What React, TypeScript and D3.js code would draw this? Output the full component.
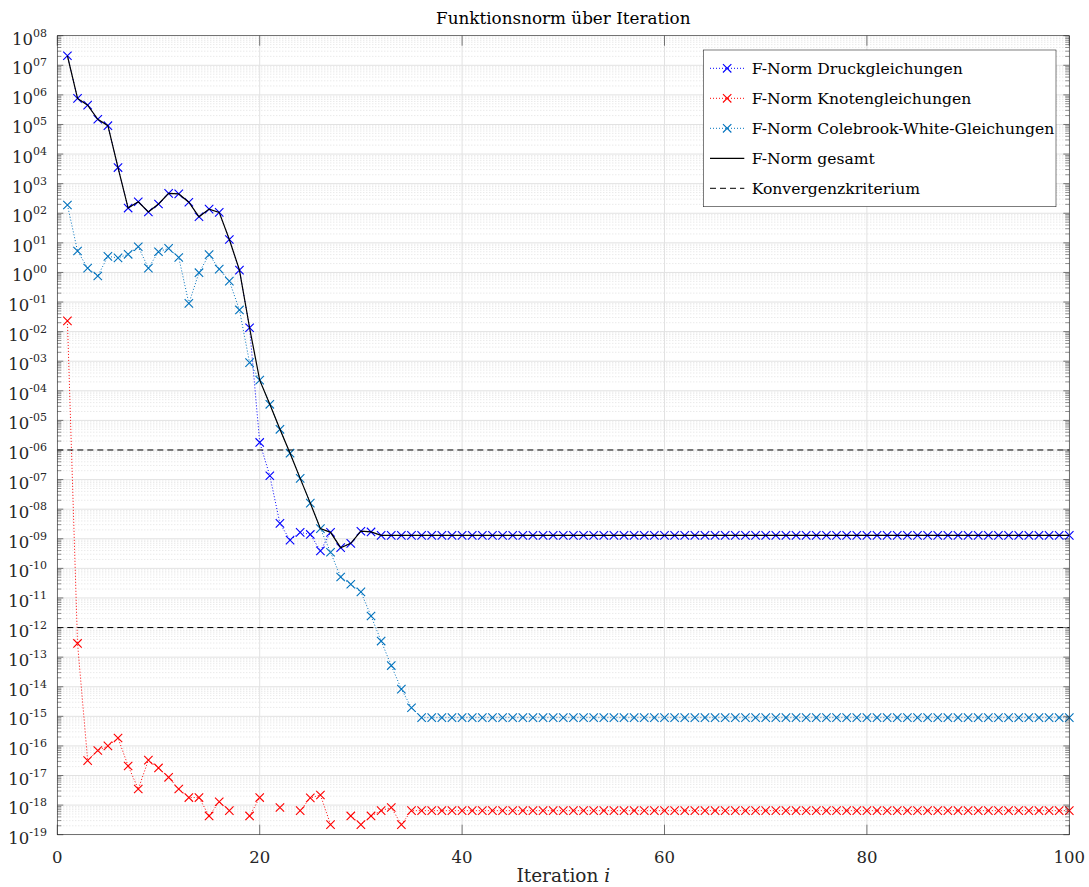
import React from "react";
import * as d3 from "d3";

// ---------- data ----------
const iterations = d3.range(1, 101);

const druckNorm: (number | null)[] = [
  2.1e7, 7.6e5, 4.5e5, 1.5e5, 9.1e4, 3.5e3, 150, 245, 110, 205,
  470, 450, 235, 76, 138, 107, 13, 1.2, 0.0135, 1.8e-6,
  1.35e-7, 3.3e-9, 9e-10, 1.65e-9, 1.4e-9, 3.9e-10, 1.65e-9, 5e-10, 7e-10, 1.8e-9,
  1.7e-9, 1.3e-9, 1.3e-9, 1.3e-9, 1.3e-9, 1.3e-9, 1.3e-9, 1.3e-9, 1.3e-9, 1.3e-9,
  1.3e-9, 1.3e-9, 1.3e-9, 1.3e-9, 1.3e-9, 1.3e-9, 1.3e-9, 1.3e-9, 1.3e-9, 1.3e-9,
  1.3e-9, 1.3e-9, 1.3e-9, 1.3e-9, 1.3e-9, 1.3e-9, 1.3e-9, 1.3e-9, 1.3e-9, 1.3e-9,
  1.3e-9, 1.3e-9, 1.3e-9, 1.3e-9, 1.3e-9, 1.3e-9, 1.3e-9, 1.3e-9, 1.3e-9, 1.3e-9,
  1.3e-9, 1.3e-9, 1.3e-9, 1.3e-9, 1.3e-9, 1.3e-9, 1.3e-9, 1.3e-9, 1.3e-9, 1.3e-9,
  1.3e-9, 1.3e-9, 1.3e-9, 1.3e-9, 1.3e-9, 1.3e-9, 1.3e-9, 1.3e-9, 1.3e-9, 1.3e-9,
  1.3e-9, 1.3e-9, 1.3e-9, 1.3e-9, 1.3e-9, 1.3e-9, 1.3e-9, 1.3e-9, 1.3e-9, 1.3e-9,
];

const knotenNorm: (number | null)[] = [
  0.023, 2.9e-13, 3.2e-17, 7e-17, 1e-16, 1.85e-16, 2.1e-17, 3.5e-18, 3.3e-17, 1.8e-17,
  8.7e-18, 3.5e-18, 1.8e-18, 1.8e-18, 4.3e-19, 1.3e-18, 6.5e-19, null, 4.3e-19, 1.8e-18,
  null, 8.3e-19, null, 6.5e-19, 1.75e-18, 2.2e-18, 2.2e-19, null, 4.3e-19, 2.2e-19,
  4.3e-19, 6.5e-19, 8.3e-19, 2.2e-19, 6.5e-19, 6.5e-19, 6.5e-19, 6.5e-19, 6.5e-19, 6.5e-19,
  6.5e-19, 6.5e-19, 6.5e-19, 6.5e-19, 6.5e-19, 6.5e-19, 6.5e-19, 6.5e-19, 6.5e-19, 6.5e-19,
  6.5e-19, 6.5e-19, 6.5e-19, 6.5e-19, 6.5e-19, 6.5e-19, 6.5e-19, 6.5e-19, 6.5e-19, 6.5e-19,
  6.5e-19, 6.5e-19, 6.5e-19, 6.5e-19, 6.5e-19, 6.5e-19, 6.5e-19, 6.5e-19, 6.5e-19, 6.5e-19,
  6.5e-19, 6.5e-19, 6.5e-19, 6.5e-19, 6.5e-19, 6.5e-19, 6.5e-19, 6.5e-19, 6.5e-19, 6.5e-19,
  6.5e-19, 6.5e-19, 6.5e-19, 6.5e-19, 6.5e-19, 6.5e-19, 6.5e-19, 6.5e-19, 6.5e-19, 6.5e-19,
  6.5e-19, 6.5e-19, 6.5e-19, 6.5e-19, 6.5e-19, 6.5e-19, 6.5e-19, 6.5e-19, 6.5e-19, 6.5e-19,
];

const colebrookNorm: (number | null)[] = [
  190, 5.3, 1.4, 0.76, 3.5, 3.1, 4.1, 7.4, 1.4, 5,
  6.5, 3.2, 0.09, 0.98, 4, 1.3, 0.51, 0.054, 9e-4, 2.3e-4,
  3.5e-5, 5e-6, 7.8e-7, 1.1e-7, 1.6e-8, 2.2e-9, 3.5e-10, 5.1e-11, 2.9e-11, 1.6e-11,
  2.45e-12, 3.5e-13, 5.2e-14, 8.3e-15, 1.95e-15, 9e-16, 9e-16, 9e-16, 9e-16, 9e-16,
  9e-16, 9e-16, 9e-16, 9e-16, 9e-16, 9e-16, 9e-16, 9e-16, 9e-16, 9e-16,
  9e-16, 9e-16, 9e-16, 9e-16, 9e-16, 9e-16, 9e-16, 9e-16, 9e-16, 9e-16,
  9e-16, 9e-16, 9e-16, 9e-16, 9e-16, 9e-16, 9e-16, 9e-16, 9e-16, 9e-16,
  9e-16, 9e-16, 9e-16, 9e-16, 9e-16, 9e-16, 9e-16, 9e-16, 9e-16, 9e-16,
  9e-16, 9e-16, 9e-16, 9e-16, 9e-16, 9e-16, 9e-16, 9e-16, 9e-16, 9e-16,
  9e-16, 9e-16, 9e-16, 9e-16, 9e-16, 9e-16, 9e-16, 9e-16, 9e-16, 9e-16,
];

const gesamtNorm: (number | null)[] = [
  2.1e7, 7.6e5, 4.5e5, 1.5e5, 9.1e4, 3.5e3, 150, 245, 110, 205,
  470, 450, 235, 76, 138, 107, 13, 1.2, 0.0135, 2.3e-4,
  3.5e-5, 5e-6, 7.8e-7, 1.1e-7, 1.6e-8, 2.2e-9, 1.65e-9, 5e-10, 7e-10, 1.8e-9,
  1.7e-9, 1.3e-9, 1.3e-9, 1.3e-9, 1.3e-9, 1.3e-9, 1.3e-9, 1.3e-9, 1.3e-9, 1.3e-9,
  1.3e-9, 1.3e-9, 1.3e-9, 1.3e-9, 1.3e-9, 1.3e-9, 1.3e-9, 1.3e-9, 1.3e-9, 1.3e-9,
  1.3e-9, 1.3e-9, 1.3e-9, 1.3e-9, 1.3e-9, 1.3e-9, 1.3e-9, 1.3e-9, 1.3e-9, 1.3e-9,
  1.3e-9, 1.3e-9, 1.3e-9, 1.3e-9, 1.3e-9, 1.3e-9, 1.3e-9, 1.3e-9, 1.3e-9, 1.3e-9,
  1.3e-9, 1.3e-9, 1.3e-9, 1.3e-9, 1.3e-9, 1.3e-9, 1.3e-9, 1.3e-9, 1.3e-9, 1.3e-9,
  1.3e-9, 1.3e-9, 1.3e-9, 1.3e-9, 1.3e-9, 1.3e-9, 1.3e-9, 1.3e-9, 1.3e-9, 1.3e-9,
  1.3e-9, 1.3e-9, 1.3e-9, 1.3e-9, 1.3e-9, 1.3e-9, 1.3e-9, 1.3e-9, 1.3e-9, 1.3e-9,
];

const konvergenzKriterien = [1e-6, 1e-12];

const xTicks = [0, 20, 40, 60, 80, 100];
const yExponents = d3.range(-19, 9);

const legendLabels = [
  "F-Norm Druckgleichungen",
  "F-Norm Knotengleichungen",
  "F-Norm Colebrook-White-Gleichungen",
  "F-Norm gesamt",
  "Konvergenzkriterium",
];

const titleText = "Funktionsnorm über Iteration";

// ---------- layout / style ----------
const W = 1089;
const H = 887;
const X0 = 57.3;
const X1 = 1069.3;
const Y0 = 35.7;
const Y1 = 834.7;
const FONT = "'DejaVu Serif', 'Liberation Serif', serif";
const AXIS_COLOR = "#262626";

const BLUE = "#0000ff";
const RED = "#ff0000";
const CYAN = "#0072bd";

type Pt = [number, number | null];

function Marker({ cx, cy, color, r = 4.2 }: { cx: number; cy: number; color: string; r?: number }) {
  return (
    <path
      d={`M${cx - r},${cy - r}L${cx + r},${cy + r}M${cx - r},${cy + r}L${cx + r},${cy - r}`}
      stroke={color}
      strokeWidth={1.1}
      fill="none"
    />
  );
}

export default function App() {
  const x = d3.scaleLinear().domain([0, 100]).range([X0, X1]);
  const y = d3.scaleLog().domain([1e-19, 1e8]).range([Y1, Y0]);

  const line = d3
    .line<Pt>()
    .defined((d) => d[1] != null && (d[1] as number) > 0)
    .x((d) => x(d[0]))
    .y((d) => y(d[1] as number));

  const toPts = (vals: (number | null)[]): Pt[] => iterations.map((it, i) => [it, vals[i]]);

  const dotted = [
    { vals: druckNorm, color: BLUE },
    { vals: knotenNorm, color: RED },
    { vals: colebrookNorm, color: CYAN },
  ];

  const minorY: number[] = [];
  for (let e = -19; e < 8; e++) {
    for (let k = 2; k <= 9; k++) minorY.push(k * Math.pow(10, e));
  }

  const fmtExp = (e: number) => (e < 0 ? "-" + String(-e).padStart(2, "0") : String(e).padStart(2, "0"));

  const legX = 703.3;
  const legY = 50;
  const legW = 352.7;
  const legH = 156.7;

  return (
    <svg
      width={W}
      height={H}
      style={{ position: "absolute", left: 0, top: 0, background: "#ffffff" }}
      fontFamily={FONT}
    >
      <rect x={0} y={0} width={W} height={H} fill="#ffffff" />
      {/* minor y grid */}
      {minorY.map((v, i) => (
        <line
          key={"mg" + i}
          x1={X0}
          x2={X1}
          y1={y(v)}
          y2={y(v)}
          stroke="#d4d4d4"
          strokeWidth={0.7}
          strokeDasharray="1 2"
        />
      ))}
      {/* major grid */}
      {yExponents.map((e) => (
        <line key={"yg" + e} x1={X0} x2={X1} y1={y(Math.pow(10, e))} y2={y(Math.pow(10, e))} stroke="#e2e2e2" strokeWidth={1} />
      ))}
      {xTicks.map((t) => (
        <line key={"xg" + t} x1={x(t)} x2={x(t)} y1={Y0} y2={Y1} stroke="#e2e2e2" strokeWidth={1} />
      ))}

      {/* dotted series with x markers */}
      {dotted.map((s, si) => (
        <g key={"s" + si}>
          <path d={line(toPts(s.vals)) || ""} fill="none" stroke={s.color} strokeWidth={1} strokeDasharray="1 2" />
          {toPts(s.vals)
            .filter((d) => d[1] != null && (d[1] as number) > 0)
            .map((d, i) => (
              <Marker key={i} cx={x(d[0])} cy={y(d[1] as number)} color={s.color} />
            ))}
        </g>
      ))}

      {/* total norm */}
      <path d={line(toPts(gesamtNorm)) || ""} fill="none" stroke="#000000" strokeWidth={1.2} />

      {/* convergence criteria */}
      {konvergenzKriterien.map((v, i) => (
        <line key={"k" + i} x1={x(0)} x2={x(100)} y1={y(v)} y2={y(v)} stroke="#000000" strokeWidth={1} strokeDasharray="6 4" />
      ))}

      {/* axes box */}
      <rect x={X0} y={Y0} width={X1 - X0} height={Y1 - Y0} fill="none" stroke={AXIS_COLOR} strokeWidth={0.6} />

      {/* y ticks (left & right, inward) */}
      {yExponents.map((e) => {
        const yy = y(Math.pow(10, e));
        return (
          <g key={"yt" + e}>
            <line x1={X0} x2={X0 + 6} y1={yy} y2={yy} stroke={AXIS_COLOR} strokeWidth={0.6} />
            <line x1={X1} x2={X1 - 6} y1={yy} y2={yy} stroke={AXIS_COLOR} strokeWidth={0.6} />
            <text x={47} y={yy + 9} textAnchor="end" fontSize={16.5} fill={AXIS_COLOR}>
              10
              <tspan dy={-8} fontSize={11}>
                {fmtExp(e)}
              </tspan>
            </text>
          </g>
        );
      })}
      {minorY.map((v, i) => (
        <g key={"ymt" + i}>
          <line x1={X0} x2={X0 + 4} y1={y(v)} y2={y(v)} stroke={AXIS_COLOR} strokeWidth={0.5} />
          <line x1={X1} x2={X1 - 4} y1={y(v)} y2={y(v)} stroke={AXIS_COLOR} strokeWidth={0.5} />
        </g>
      ))}

      {/* x ticks */}
      {xTicks.map((t) => (
        <g key={"xt" + t}>
          <line x1={x(t)} x2={x(t)} y1={Y1} y2={Y1 - 10} stroke={AXIS_COLOR} strokeWidth={0.6} />
          <line x1={x(t)} x2={x(t)} y1={Y0} y2={Y0 + 10} stroke={AXIS_COLOR} strokeWidth={0.6} />
          <text x={x(t)} y={862.5} textAnchor="middle" fontSize={16.5} fill={AXIS_COLOR}>
            {t}
          </text>
        </g>
      ))}

      {/* axis label */}
      <text x={(X0 + X1) / 2} y={882} textAnchor="middle" fontSize={18.5} fill={AXIS_COLOR}>
        Iteration <tspan fontStyle="italic">i</tspan>
      </text>

      {/* title */}
      <text x={(X0 + X1) / 2} y={24} textAnchor="middle" fontSize={16.8} fill="#000000">
        {titleText}
      </text>

      {/* legend */}
      <rect x={legX} y={legY} width={legW} height={legH} fill="#ffffff" stroke={AXIS_COLOR} strokeWidth={0.6} />
      {legendLabels.map((lab, i) => {
        const ly = 68.3 + 30 * i;
        const sx1 = 710;
        const sx2 = 744.3;
        let sample: React.ReactNode = null;
        if (i < 3) {
          const c = [BLUE, RED, CYAN][i];
          sample = (
            <g>
              <line x1={sx1} x2={sx2} y1={ly} y2={ly} stroke={c} strokeWidth={1} strokeDasharray="1 2" />
              <Marker cx={(sx1 + sx2) / 2} cy={ly} color={c} />
            </g>
          );
        } else if (i === 3) {
          sample = <line x1={sx1} x2={sx2} y1={ly} y2={ly} stroke="#000000" strokeWidth={1.2} />;
        } else {
          sample = <line x1={sx1} x2={sx2} y1={ly} y2={ly} stroke="#000000" strokeWidth={1} strokeDasharray="6 4" />;
        }
        return (
          <g key={"lg" + i}>
            {sample}
            <text x={751.7} y={ly + 5.5} fontSize={15.6} fill="#000000">
              {lab}
            </text>
          </g>
        );
      })}
    </svg>
  );
}
